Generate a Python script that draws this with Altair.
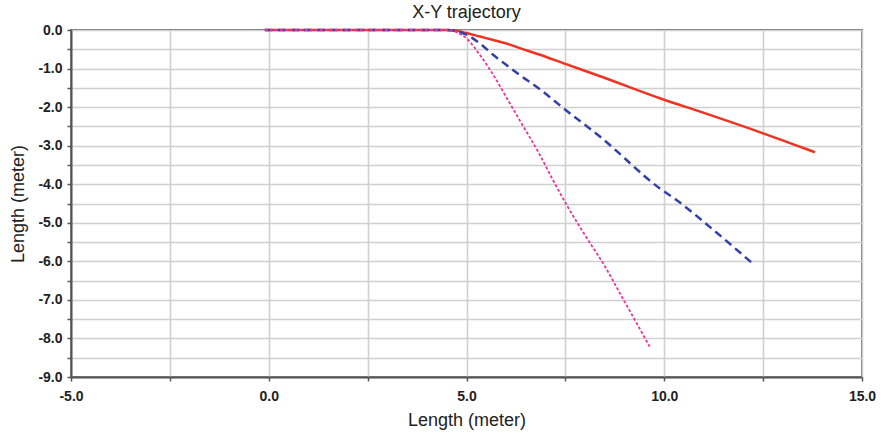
import altair as alt
import pandas as pd

# Series
red_x = [-0.1, 4.5, 4.75, 5.0, 5.34, 5.68, 6.01, 6.35, 6.82, 7.5, 8.38, 9.89, 11.0, 12.5, 13.3, 13.81]
red_y = [0.0, 0.0, -0.02, -0.08, -0.17, -0.26, -0.35, -0.47, -0.63, -0.88, -1.20, -1.77, -2.15, -2.68, -2.98, -3.17]

blue_x = [-0.1, 4.5, 4.75, 5.0, 5.34, 5.68, 6.01, 6.35, 6.82, 7.5, 8.38, 9.89, 10.31, 11.2, 12.23]
blue_y = [0.0, 0.0, -0.03, -0.12, -0.35, -0.65, -0.91, -1.17, -1.51, -2.07, -2.77, -4.11, -4.41, -5.15, -6.05]

pink_x = [-0.1, 4.5, 4.75, 5.0, 5.34, 5.68, 6.01, 6.35, 6.86, 7.19, 7.54, 8.17, 8.38, 9.0, 9.63]
pink_y = [0.0, 0.0, -0.06, -0.22, -0.65, -1.17, -1.75, -2.35, -3.25, -3.90, -4.55, -5.60, -5.93, -7.05, -8.21]

x_ticks = [-5, -2.5, 0, 2.5, 5, 7.5, 10, 12.5, 15]
y_ticks = [0, -0.5, -1, -1.5, -2, -2.5, -3, -3.5, -4, -4.5, -5, -5.5, -6, -6.5, -7, -7.5, -8, -8.5, -9]

FONT = "Liberation Sans"


def frame(xs, ys, name):
    return pd.DataFrame({"x": xs, "y": ys, "i": list(range(len(xs))), "s": name})


red = frame(red_x, red_y, "red")
blue = frame(blue_x, blue_y, "blue")
pink = frame(pink_x, pink_y, "pink")

lab_x = "datum.value % 5 == 0 ? replace(format(datum.value, '.1f'), '\u2212', '-') : ''"
lab_y = "datum.value % 1 == 0 ? replace(format(datum.value, '.1f'), '\u2212', '-') : ''"

xenc = alt.X(
    "x:Q",
    scale=alt.Scale(domain=[-5, 15], nice=False, zero=False),
    axis=alt.Axis(
        title="Length (meter)",
        values=x_ticks,
        labelExpr=lab_x,
        labelFlush=False,
        labelPadding=8,
        titlePadding=8,
    ),
)
yenc = alt.Y(
    "y:Q",
    scale=alt.Scale(domain=[-9, 0], nice=False, zero=False),
    axis=alt.Axis(
        title="Length (meter)",
        values=y_ticks,
        labelExpr=lab_y,
        labelFlush=False,
        labelPadding=5,
        titlePadding=10,
    ),
)

l_red = alt.Chart(red).mark_line(
    color="#ee3322", strokeWidth=2.5, interpolate="monotone"
).encode(x=xenc, y=yenc, order="i:Q")
l_blue = alt.Chart(blue).mark_line(
    color="#3340a8", strokeWidth=2.5, strokeDash=[8, 5], interpolate="monotone"
).encode(x=xenc, y=yenc, order="i:Q")
l_pink = alt.Chart(pink).mark_line(
    color="#ee3399", strokeWidth=1.8, strokeDash=[3, 2], interpolate="monotone"
).encode(x=xenc, y=yenc, order="i:Q")

chart = (
    alt.layer(l_red, l_blue, l_pink)
    .properties(
        width=791,
        height=347,
        autosize=alt.AutoSizeParams(type="none"),
        padding={"left": 71, "top": 30, "right": 21, "bottom": 59},
        title=alt.TitleParams(
            "X-Y trajectory",
            font=FONT,
            fontSize=18,
            fontWeight="normal",
            color="#222222",
            frame="group",
            anchor="middle",
            offset=1,
        ),
    )
    .configure_view(stroke="#707070", strokeWidth=2)
    .configure_axis(
        labelFont=FONT,
        labelFontSize=14,
        labelFontWeight="bold",
        labelColor="#222222",
        titleFont=FONT,
        titleFontSize=18,
        titleFontWeight="normal",
        titleColor="#222222",
        gridColor="#d0d0d0",
        gridWidth=1.6,
        gridOpacity=1,
        domainColor="#555555",
        domainWidth=2,
        tickColor="#555555",
        tickSize=4,
        tickWidth=1.5,
    )
)

chart.save("out.html", embed_options={"renderer": "svg", "actions": False})
